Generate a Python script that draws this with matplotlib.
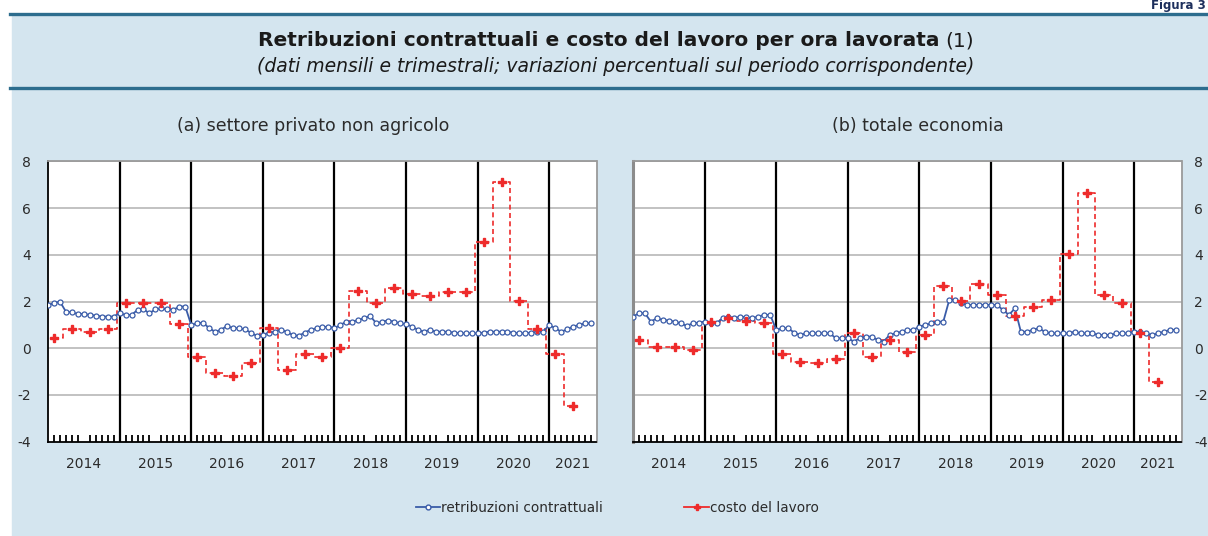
import matplotlib
matplotlib.use("Agg")
import matplotlib.pyplot as plt
from matplotlib.lines import Line2D
from matplotlib.patches import Rectangle
import numpy as np

plt.rcParams['font.family'] = ['DejaVu Sans']
plt.rcParams['axes.unicode_minus'] = False

years = [2014, 2015, 2016, 2017, 2018, 2019, 2020, 2021]
year_labels = [str(y) for y in years]

# monthly series, Jan 2014 - Aug 2021
retrib_a = [1.86, 1.93, 2.0, 1.57, 1.54, 1.47, 1.47, 1.43, 1.4, 1.36, 1.36, 1.36,
            1.5, 1.43, 1.43, 1.64, 1.67, 1.5, 1.67, 1.71, 1.67, 1.64, 1.79, 1.79,
            1.0, 1.07, 1.1, 0.86, 0.71, 0.79, 0.96, 0.86, 0.86, 0.81, 0.67, 0.53,
            0.57, 0.67, 0.71, 0.79, 0.71, 0.57, 0.53, 0.67, 0.79, 0.86, 0.9, 0.93,
            0.86, 1.0, 1.14, 1.14, 1.21, 1.29, 1.39, 1.07, 1.14, 1.19, 1.14, 1.07,
            1.04, 0.93, 0.79, 0.71, 0.79, 0.71, 0.71, 0.71, 0.67, 0.64, 0.64, 0.64,
            0.64, 0.67, 0.71, 0.71, 0.71, 0.71, 0.67, 0.64, 0.64, 0.67, 0.71, 0.71,
            1.0, 0.86, 0.71, 0.81, 0.93, 1.0, 1.07, 1.07]
retrib_b = [1.36, 1.5, 1.5, 1.14, 1.29, 1.21, 1.19, 1.14, 1.07, 0.96, 1.07, 1.1,
            1.14, 1.1, 1.07, 1.29, 1.36, 1.29, 1.36, 1.33, 1.29, 1.36, 1.43, 1.43,
            0.79, 0.86, 0.86, 0.67, 0.57, 0.64, 0.64, 0.64, 0.64, 0.64, 0.43, 0.43,
            0.43, 0.29, 0.43, 0.5, 0.5, 0.36, 0.29, 0.57, 0.64, 0.71, 0.79, 0.79,
            0.93, 1.0, 1.07, 1.14, 1.14, 2.07, 2.07, 1.93, 1.86, 1.86, 1.86, 1.86,
            1.86, 1.86, 1.64, 1.43, 1.71, 0.71, 0.71, 0.79, 0.86, 0.71, 0.64, 0.64,
            0.64, 0.64, 0.71, 0.64, 0.64, 0.64, 0.57, 0.57, 0.57, 0.64, 0.64, 0.64,
            0.71, 0.71, 0.64, 0.57, 0.64, 0.71, 0.79, 0.79]

# quarterly series, 2014Q1 - 2021Q2
costo_a = [0.43, 0.81, 0.71, 0.81,
           1.93, 1.93, 1.93, 1.03,
           -0.39, -1.07, -1.19, -0.64,
           0.86, -0.93, -0.24, -0.36,
           0.03, 2.47, 1.93, 2.57,
           2.33, 2.24, 2.43, 2.43,
           4.57, 7.14, 2.04, 0.81,
           -0.24, -2.47]
costo_b = [0.36, 0.04, 0.04, -0.07,
           1.14, 1.29, 1.19, 1.07,
           -0.24, -0.57, -0.64, -0.47,
           0.67, -0.36, 0.36, -0.14,
           0.57, 2.67, 2.04, 2.76,
           2.27, 1.40, 1.76, 2.07,
           4.04, 6.67, 2.27, 1.96,
           0.67, -1.46]

BG = '#d4e5ef'
DARK = '#2d6d8e'
BLUE = '#3a5ca8'
RED = '#ee2b2b'
TXT = '#2b2b2b'

x_month = 2014 + np.arange(len(retrib_a)) / 12
x_quarter = 2014 + (3 * np.arange(len(costo_a)) + 1) / 12
x_end = 2021.66


def draw_panel(ax, retrib, costo, title, title_x, right_labels):
    ax.set_facecolor('white')
    ax.set_xlim(2014, x_end)
    ax.set_ylim(-4, 8)
    ax.set_yticks(range(-4, 9, 2))
    for v in range(-2, 9, 2):
        ax.axhline(v, color='#bdbdbd', lw=1.3, zorder=1)
    for y in years[1:]:
        ax.axvline(y, color='black', lw=1.6, zorder=2)

    ax.plot(x_month, retrib, color=BLUE, lw=1.3, marker='o', ms=3.6,
            mfc='white', mec=BLUE, mew=0.9, zorder=4)
    ax.plot(x_quarter, costo, color=RED, lw=1.2, ls=(0, (3, 2)),
            drawstyle='steps-mid', zorder=3)
    ax.plot(x_quarter, costo, ls='none', marker='P', ms=6, color=RED, zorder=5)

    centers = [y + 0.5 for y in years[:-1]] + [(years[-1] + x_end) / 2]
    ax.set_xticks(centers, year_labels)
    ax.set_xticks(2014 + np.arange(1, 92) / 12, minor=True)
    ax.tick_params(axis='x', which='major', length=0, pad=11,
                   labelsize=10, labelcolor=TXT)
    ax.tick_params(axis='x', which='minor', direction='in', length=5,
                   width=1.3, color='black')
    if right_labels:
        ax.tick_params(axis='y', length=0, labelleft=False, labelright=True,
                       pad=9, labelsize=10, labelcolor=TXT)
        ax.spines['left'].set_color('#8c8c8c')
        ax.spines['left'].set_linewidth(2.2)
    else:
        ax.tick_params(axis='y', length=0, pad=12, labelsize=10,
                       labelcolor=TXT)
        ax.spines['left'].set_color('black')
        ax.spines['left'].set_linewidth(1.3)
    ax.spines['bottom'].set_color('black')
    ax.spines['bottom'].set_linewidth(1.3)
    for s in ['top', 'right']:
        ax.spines[s].set_color('#9a9a9a')
        ax.spines[s].set_linewidth(1.3)
    ax.set_title(title, fontsize=12.5, color=TXT, pad=22, x=title_x)


fig = plt.figure(figsize=(12.08, 5.36), dpi=100)
fig.patch.set_facecolor('white')
fig.add_artist(Rectangle((12 / 1208, 0), 1, 1 - 14 / 536,
                         transform=fig.transFigure, color=BG, zorder=-10))
for yy in [14, 88]:
    fig.add_artist(Line2D([10 / 1208, 1], [1 - yy / 536] * 2,
                          transform=fig.transFigure, color=DARK, lw=2.4))

fig.text(1206 / 1208, 1 - 12 / 536, 'Figura 3', fontsize=8.5, fontweight='bold',
         color='#1d2f5c', va='bottom', ha='right')

# bold title followed by a regular "(1)", centred together
title_y = 1 - 41 / 536
t1 = fig.text(0, title_y,
              'Retribuzioni contrattuali e costo del lavoro per ora lavorata',
              fontsize=14.5, fontweight='bold', color='#1a1a1a',
              ha='left', va='center')
t2 = fig.text(0, title_y, '(1)', fontsize=14.5, color='#1a1a1a',
              ha='left', va='center')
fig.canvas.draw()
w1 = t1.get_window_extent().width
w2 = t2.get_window_extent().width
x0 = 616 - (w1 + 5 + w2) / 2
t1.set_x(x0 / 1208)
t2.set_x((x0 + w1 + 5) / 1208)

fig.text(616 / 1208, 1 - 67 / 536,
         '(dati mensili e trimestrali; variazioni percentuali sul periodo corrispondente)',
         fontsize=13.5, style='italic', color='#1a1a1a', ha='center', va='center')

ax1 = fig.add_axes([48 / 1208, 1 - 441.7 / 536, 548.5 / 1208, 280.2 / 536])
ax2 = fig.add_axes([633 / 1208, 1 - 441.7 / 536, 548.5 / 1208, 280.2 / 536])
draw_panel(ax1, retrib_a, costo_a, '(a) settore privato non agricolo', 0.483, False)
draw_panel(ax2, retrib_b, costo_b, '(b) totale economia', 0.52, True)

handles = [Line2D([], [], color=BLUE, lw=1.3, marker='o', ms=3.5, mfc='white',
                  mec=BLUE),
           Line2D([], [], color=RED, lw=1.3, marker='P', ms=5)]
fig.legend(handles, ['retribuzioni contrattuali', 'costo del lavoro'],
           loc='center', bbox_to_anchor=(617 / 1208, 1 - 508 / 536), ncol=2,
           frameon=False, fontsize=9.8, handlelength=1.8, handletextpad=0.05,
           columnspacing=6, labelcolor=TXT)

fig.savefig('out.png', dpi=100, facecolor=fig.get_facecolor())
